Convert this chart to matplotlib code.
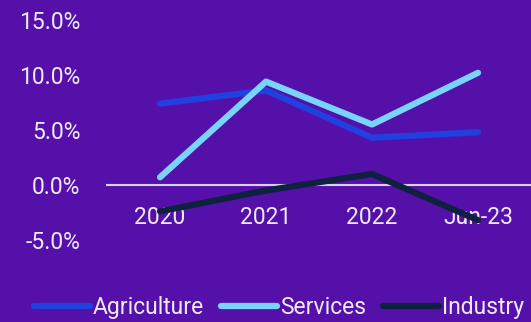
import matplotlib.pyplot as plt

# data
categories = ['2020', '2021', '2022', 'Jun-23']
agriculture = [7.4, 8.6, 4.3, 4.8]
services = [0.7, 9.4, 5.5, 10.2]
industry = [-2.4, -0.5, 1.0, -3.2]
y_ticks = [-5, 0, 5, 10, 15]

bg = '#5510AA'
txt = '#F0EAF8'
fs = 16.5

plt.rcParams['font.family'] = ['Roboto', 'DejaVu Sans']

fig = plt.figure(figsize=(5.31, 3.22), dpi=100, facecolor=bg)
ax = fig.add_axes([0.2015, 0.2547, 0.7985, 0.6832], facecolor=bg)

x = range(len(categories))
ax.plot(x, agriculture, color='#2040E0', lw=4.5, solid_capstyle='round', label='Agriculture', zorder=3)
ax.plot(x, services, color='#78D4FA', lw=4.5, solid_capstyle='round', label='Services', zorder=3)
ax.plot(x, industry, color='#0E2240', lw=4.5, solid_capstyle='round', label='Industry', zorder=3)

ax.set_xlim(-0.5, 3.5)
ax.set_ylim(-5, 15)
ax.set_yticks(y_ticks)
ax.set_yticklabels(['%.1f%%' % v for v in y_ticks])
ax.set_xticks(list(x))
ax.set_xticklabels(categories)

for s in ['top', 'right', 'left']:
    ax.spines[s].set_visible(False)
ax.spines['bottom'].set_position(('data', 0))
ax.spines['bottom'].set_color('#D8D0EC')
ax.spines['bottom'].set_linewidth(1.5)
ax.spines['bottom'].set_zorder(1)

ax.tick_params(axis='y', length=0, pad=19, labelsize=fs, labelcolor=txt)
ax.tick_params(axis='x', length=0, pad=15, labelsize=fs, labelcolor=txt)
for lab in ax.get_xticklabels():
    lab.set_zorder(4)

fig.legend(loc='center', bbox_to_anchor=(0.525, 0.045), ncol=3, frameon=False,
           fontsize=fs, labelcolor=txt, handlelength=2.45, handletextpad=0.12,
           columnspacing=0.75, borderaxespad=0)

plt.savefig('out.png', dpi=100, facecolor=bg)
